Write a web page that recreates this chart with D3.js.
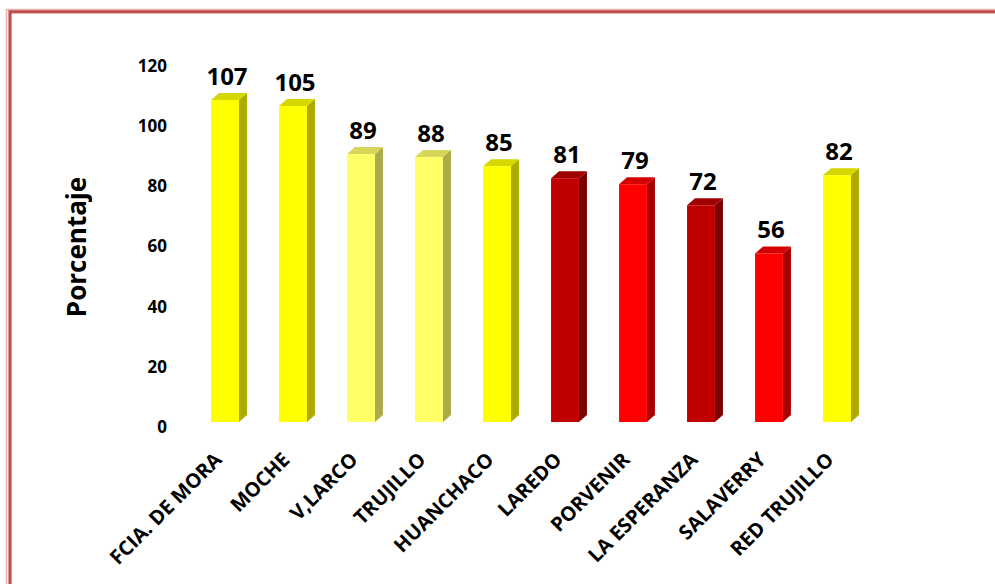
<!DOCTYPE html>
<html>
<head>
<meta charset="utf-8">
<script src="https://cdn.jsdelivr.net/npm/d3@7"></script>
<style>
  html, body { margin: 0; padding: 0; background: #fff; }
  svg { display: block; }
</style>
</head>
<body>
<div id="chart"></div>
<script>
// Cobertura por establecimiento (porcentaje)
const categories = ["FCIA. DE MORA", "MOCHE", "V,LARCO", "TRUJILLO", "HUANCHACO",
                    "LAREDO", "PORVENIR", "LA ESPERANZA", "SALAVERRY", "RED TRUJILLO"];
const values = [107, 105, 89, 88, 85, 81, 79, 72, 56, 82];
const colorGroups = ["yellow", "yellow", "paleYellow", "paleYellow", "yellow",
                     "darkRed", "red", "darkRed", "red", "yellow"];
const yTicks = [0, 20, 40, 60, 80, 100, 120];
const yTitle = "Porcentaje";

const palette = {
  yellow:     { front: "#FFFF00", side: "#ABAB00", top: "#D6D600" },
  paleYellow: { front: "#FFFF66", side: "#ABAB4A", top: "#D6D65A" },
  darkRed:    { front: "#C00000", side: "#7A0000", top: "#A00000" },
  red:        { front: "#FF0000", side: "#A80000", top: "#D40000" }
};

const W = 995, H = 584;
const font = "'Open Sans', sans-serif";
const svg = d3.select("#chart").append("svg").attr("width", W).attr("height", H);

// frame
svg.append("rect").attr("x", 6.5).attr("y", 9.5).attr("width", 1100).attr("height", 1000)
  .attr("fill", "none").attr("stroke", "#E8B4B2").attr("stroke-width", 1.5);
svg.append("rect").attr("x", 10).attr("y", 11.8).attr("width", 1100).attr("height", 1000)
  .attr("fill", "none").attr("stroke", "#C0504D").attr("stroke-width", 3.2);

const x = d3.scaleBand().domain(categories).range([191, 871]).padding(0);
const y = d3.scaleLinear().domain([0, 120]).range([422, 60.8]);

const frontW = x.bandwidth() * 0.41;
const dx = 8, dy = 7;

const defs = svg.append("defs");
defs.append("filter").attr("id", "soft")
  .append("feGaussianBlur").attr("stdDeviation", 0.6);

const bars = svg.append("g").attr("filter", "url(#soft)")
  .selectAll("g.bar").data(categories).join("g").attr("class", "bar");

bars.each(function (c, i) {
  const g = d3.select(this);
  const col = palette[colorGroups[i]];
  const cx = x(c) + x.bandwidth() / 2;
  const x0 = cx - frontW / 2, x1 = cx + frontW / 2;
  const yt = y(values[i]), yb = y(0);
  // side face
  g.append("path")
    .attr("d", `M${x1},${yt} L${x1 + dx},${yt - dy} L${x1 + dx},${yb - dy} L${x1},${yb} Z`)
    .attr("fill", col.side);
  // top face
  g.append("path")
    .attr("d", `M${x0},${yt} L${x0 + dx},${yt - dy} L${x1 + dx},${yt - dy} L${x1},${yt} Z`)
    .attr("fill", col.top);
  // front face
  g.append("rect").attr("x", x0).attr("y", yt).attr("width", frontW).attr("height", yb - yt)
    .attr("fill", col.front);
});

// value labels
svg.append("g").selectAll("text").data(categories).join("text")
  .attr("x", c => x(c) + x.bandwidth() / 2 + 2)
  .attr("y", (c, i) => y(values[i]) - dy - 8)
  .attr("text-anchor", "middle")
  .attr("font-family", font)
  .attr("font-weight", "bold")
  .attr("font-size", 24)
  .attr("fill", "#000")
  .text((c, i) => values[i]);

// y tick labels
svg.append("g").selectAll("text").data(yTicks).join("text")
  .attr("x", 167)
  .attr("y", d => y(d) + 11)
  .attr("text-anchor", "end")
  .attr("font-family", font)
  .attr("font-weight", "bold")
  .attr("font-size", 17)
  .attr("fill", "#000")
  .text(d => d);

// y title
svg.append("text")
  .attr("transform", "translate(86,247) rotate(-90)")
  .attr("text-anchor", "middle")
  .attr("font-family", font)
  .attr("font-weight", "bold")
  .attr("font-size", 26)
  .attr("fill", "#000")
  .text(yTitle);

// category labels
svg.append("g").selectAll("text").data(categories).join("text")
  .attr("transform", c => `translate(${x(c) + x.bandwidth() / 2 - 2},${461}) rotate(-45)`)
  .attr("text-anchor", "end")
  .attr("font-family", font)
  .attr("font-weight", "bold")
  .attr("font-size", 20)
  .attr("fill", "#000")
  .text(c => c);
</script>
</body>
</html>
